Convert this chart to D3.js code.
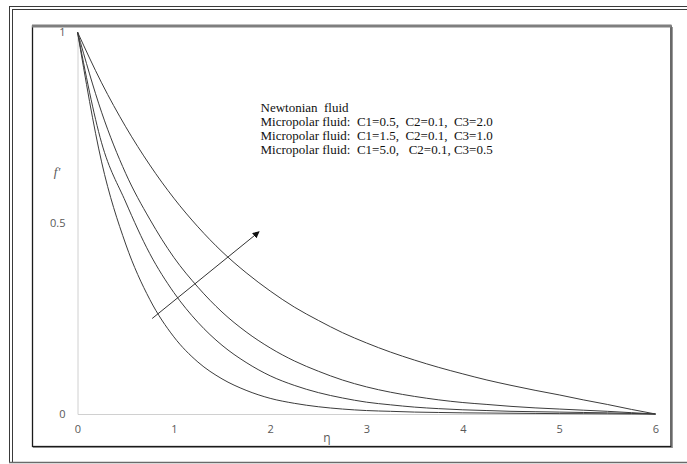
<!DOCTYPE html>
<html><head><meta charset="utf-8">
<script src="https://cdn.jsdelivr.net/npm/d3@7"></script>
<style>
html,body{margin:0;padding:0;background:#fff;}
svg{display:block;}
.leg{white-space:pre;}
</style></head>
<body>
<svg id="chart" width="687" height="464"></svg>
<script>
// ---- data ----
const etaValues = [0,0.25,0.5,0.75,1,1.25,1.5,1.75,2,2.25,2.5,2.75,3,3.25,3.5,3.75,4,4.25,4.5,4.75,5,5.25,5.5,5.75,6];
const seriesA = [1,0.867,0.752,0.652,0.565,0.49,0.425,0.37,0.322,0.28,0.245,0.213,0.186,0.162,0.141,0.122,0.105,0.089,0.075,0.062,0.05,0.037,0.025,0.012,0];
const seriesB = [1,0.79,0.63,0.51,0.41,0.332,0.267,0.215,0.173,0.139,0.112,0.089,0.071,0.057,0.046,0.037,0.03,0.025,0.02,0.016,0.013,0.01,0.007,0.0035,0];
const seriesC = [1,0.71,0.555,0.42,0.318,0.24,0.18,0.135,0.1,0.075,0.056,0.042,0.031,0.024,0.018,0.014,0.011,0.009,0.007,0.006,0.005,0.004,0.003,0.0015,0];
const seriesD = [1,0.66,0.445,0.30,0.202,0.136,0.092,0.062,0.041,0.028,0.019,0.013,0.009,0.007,0.005,0.004,0.003,0.0025,0.002,0.0015,0.001,0.0008,0.0005,0.0002,0];
const xTicks = [0,1,2,3,4,5,6];
const yTicks = [0,0.5,1];
const legendLines = [
  "Newtonian  fluid",
  "Micropolar fluid:  C1=0.5,  C2=0.1,  C3=2.0",
  "Micropolar fluid:  C1=1.5,  C2=0.1,  C3=1.0",
  "Micropolar fluid:  C1=5.0,   C2=0.1, C3=0.5"
];
const arrowFrom = [0.775, 0.25];
const arrowTo = [1.885, 0.477];

// ---- drawing ----
const svg = d3.select("#chart");
const x = d3.scaleLinear().domain([0,6]).range([77.5,655.5]);
const y = d3.scaleLinear().domain([0,1]).range([414,32]);

// outer double frame
const frame = svg.append("g").attr("stroke","#3a3a3a").attr("fill","none").attr("stroke-width",1);
frame.append("line").attr("x1",9).attr("y1",6.5).attr("x2",687).attr("y2",6.5);
frame.append("line").attr("x1",12).attr("y1",9.5).attr("x2",687).attr("y2",9.5);
frame.append("line").attr("x1",9.5).attr("y1",6.5).attr("x2",9.5).attr("y2",463);
frame.append("line").attr("x1",12.5).attr("y1",9.5).attr("x2",12.5).attr("y2",463);
svg.append("line").attr("x1",9).attr("y1",462.5).attr("x2",687).attr("y2",462.5)
  .attr("stroke","#6a6a6a").attr("stroke-width",1.5);

// inner box
svg.append("rect").attr("x",32.5).attr("y",26).attr("width",638.5).attr("height",420.5)
  .attr("fill","none").attr("stroke","#1a1a1a").attr("stroke-width",1.3);
svg.append("line").attr("x1",32).attr("y1",26).attr("x2",671.5).attr("y2",26)
  .attr("stroke","#7f7f7f").attr("stroke-width",3);
svg.append("line").attr("x1",33).attr("y1",447.5).attr("x2",672.5).attr("y2",447.5)
  .attr("stroke","#8a8a8a").attr("stroke-width",1.2);
svg.append("line").attr("x1",672.5).attr("y1",27).attr("x2",672.5).attr("y2",448)
  .attr("stroke","#9a9a9a").attr("stroke-width",1);

// axes
const xAxis = d3.axisBottom(x).tickValues(xTicks).tickSize(0).tickPadding(11).tickFormat(d3.format("d"));
const gx = svg.append("g").attr("transform",`translate(0,${y(0)})`).attr("color","#595959").call(xAxis);
gx.select(".domain").attr("stroke","#d0d0d0");
gx.selectAll("text").attr("font-family","'Open Sans', sans-serif").attr("font-size",11);

const yAxis = d3.axisLeft(y).tickValues(yTicks).tickSize(0).tickPadding(12).tickFormat(d => d===0.5?"0.5":d3.format("d")(d));
const gy = svg.append("g").attr("transform",`translate(${x(0)},0)`).attr("color","#595959").call(yAxis);
gy.select(".domain").attr("stroke","#d0d0d0");
gy.selectAll("text").attr("font-family","'Open Sans', sans-serif").attr("font-size",11);

// axis titles
svg.append("text").attr("x",327).attr("y",442).attr("text-anchor","middle")
  .attr("fill","#595959").attr("font-family","'Open Sans', sans-serif").attr("font-size",12).text("η");
svg.append("text").attr("x",57).attr("y",176).attr("text-anchor","middle")
  .attr("fill","#595959").attr("font-family","'Liberation Serif', serif").attr("font-style","italic").attr("font-size",13).text("f'");

// curves
const line = d3.line().x(d => x(d[0])).y(d => y(d[1])).curve(d3.curveMonotoneX);
[seriesA, seriesB, seriesC, seriesD].forEach(s => {
  svg.append("path").datum(etaValues.map((e,i)=>[e,s[i]]))
    .attr("d",line).attr("fill","none").attr("stroke","#3c3c3c").attr("stroke-width",1);
});

// arrow
const defs = svg.append("defs");
defs.append("marker").attr("id","ah").attr("viewBox","0 0 10 10").attr("refX",9).attr("refY",5)
  .attr("markerWidth",7).attr("markerHeight",7).attr("markerUnits","userSpaceOnUse").attr("orient","auto")
  .append("path").attr("d","M0,0 L10,5 L0,10 Z").attr("fill","#111");
svg.append("line").attr("x1",x(arrowFrom[0])).attr("y1",y(arrowFrom[1]))
  .attr("x2",x(arrowTo[0])).attr("y2",y(arrowTo[1]))
  .attr("stroke","#333").attr("stroke-width",1).attr("marker-end","url(#ah)");

// legend text
const leg = svg.append("g").attr("font-family","'Liberation Serif','Times New Roman',serif").attr("font-size",13).attr("fill","#111");
legendLines.forEach((t,i) => {
  leg.append("text").attr("class","leg").attr("x",260.5).attr("y",112 + i*14).text(t);
});
</script>
</body></html>
